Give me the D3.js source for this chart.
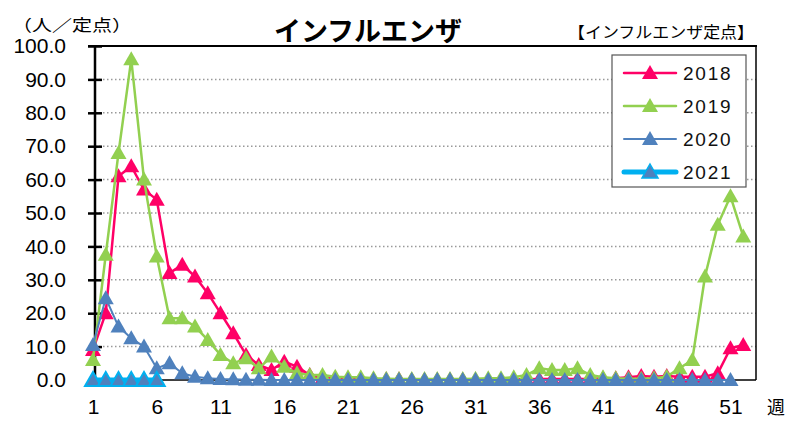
<!DOCTYPE html>
<html>
<head>
<meta charset="utf-8">
<script src="https://cdn.jsdelivr.net/npm/d3@7"></script>
<style>
body { margin: 0; background: #fff; }
svg { display: block; }
text { font-family: "Liberation Sans", Arial, sans-serif; }
.jp { font-family: "Noto Sans CJK JP", sans-serif; }
</style>
</head>
<body>
<svg id="chart" width="787" height="421"></svg>
<script>
// weeks 1..52
var weeks = d3.range(1, 53);
var yTicks = [0, 10, 20, 30, 40, 50, 60, 70, 80, 90, 100];
var xTicks = [1, 6, 11, 16, 21, 26, 31, 36, 41, 46, 51];

var v2018 = [9, 20, 61, 64, 57, 54, 32, 34.5, 31, 26, 20, 14, 7.5, 4.5, 3, 5.5, 4, 1.5, 0.5, 0.5,
  0.3, 0.3, 0.2, 0.2, 0.2, 0.1, 0.1, 0.1, 0.1, 0.1, 0.1, 0.1, 0.1, 0.2, 0.2, 0.3, 0.3, 0.3, 0.3, 0.3,
  0.5, 0.5, 0.8, 1.2, 1, 1.2, 1, 1, 1, 2, 9.5, 10.5];
var v2019 = [6, 37.5, 68, 96, 60, 37, 18.5, 18.5, 16, 12, 7.5, 5, 6.5, 3.5, 7, 4, 2, 1.5, 1.5, 1,
  0.8, 0.8, 0.5, 0.4, 0.3, 0.3, 0.3, 0.3, 0.3, 0.3, 0.4, 0.5, 0.5, 0.8, 1.5, 3.5, 3, 3, 3.5, 1.5,
  0.8, 0.5, 0.4, 0.4, 0.5, 1, 3.5, 6, 31, 46.5, 55, 43];
var v2020 = [10.5, 24.5, 16, 12.5, 10, 3.5, 5, 2, 1, 0.5, 0.3, 0.2, 0.1, 0.1, 0, 0, 0, 0, 0, 0,
  0, 0, 0, 0, 0, 0, 0, 0, 0, 0, 0, 0, 0, 0, 0, 0, 0, 0, 0, 0,
  0, 0, 0, 0, 0, 0, 0, 0, 0, 0, 0];
var v2021 = [0, 0, 0, 0, 0, 0];

var series = [
  { name: "2018", values: v2018, line: "#ff0066", fill: "#ff0066", stroke: null, w: 2.5 },
  { name: "2019", values: v2019, line: "#92d050", fill: "#92d050", stroke: null, w: 2.5 },
  { name: "2020", values: v2020, line: "#4f81bd", fill: "#4f81bd", stroke: null, w: 2 },
  { name: "2021", values: v2021, line: "#00b0f0", fill: "#4f81bd", stroke: "#00b0f0", w: 5 }
];

var svg = d3.select("#chart");
var x = d3.scaleLinear().domain([1, 53]).range([93, 756]);
var y = d3.scaleLinear().domain([0, 100]).range([380, 46]);

// grid
svg.append("g").selectAll("line")
  .data(yTicks.filter(function(d){ return d > 0 && d < 100; }))
  .enter().append("line")
  .attr("x1", 95).attr("x2", 756)
  .attr("y1", function(d){ return y(d); }).attr("y2", function(d){ return y(d); })
  .attr("stroke", "#999").attr("stroke-width", 1.5).attr("stroke-dasharray", "1.5,2.5");

// frame
svg.append("line").attr("x1", 88).attr("x2", 757).attr("y1", y(100)).attr("y2", y(100))
  .attr("stroke", "#000").attr("stroke-width", 2);
svg.append("line").attr("x1", 756).attr("x2", 756).attr("y1", y(100)).attr("y2", y(0))
  .attr("stroke", "#000").attr("stroke-width", 1.5);
svg.append("line").attr("x1", 94).attr("x2", 756).attr("y1", y(0)).attr("y2", y(0))
  .attr("stroke", "#000").attr("stroke-width", 1.5);

// y axis
var yAxis = svg.append("g").attr("transform", "translate(95,0)")
  .call(d3.axisLeft(y).tickValues(yTicks).tickFormat(d3.format(".1f")).tickSize(7).tickPadding(22));
yAxis.select(".domain").remove();
yAxis.selectAll(".tick line").attr("x2", 7).attr("x1", -7).attr("stroke", "#000").attr("stroke-width", 2.5);
yAxis.selectAll("text").attr("font-size", 21).attr("fill", "#000")
  .style("font-family", "'Liberation Sans', Arial, sans-serif");
svg.append("line").attr("x1", 95).attr("x2", 95).attr("y1", y(100)).attr("y2", y(0))
  .attr("stroke", "#000").attr("stroke-width", 2.5);

// x axis labels
var xAxis = svg.append("g").attr("transform", "translate(0,380)")
  .call(d3.axisBottom(x).tickValues(xTicks).tickFormat(d3.format("d")).tickSize(0).tickPadding(19));
xAxis.select(".domain").remove();
xAxis.selectAll("text").attr("font-size", 21).attr("fill", "#000")
  .style("font-family", "'Liberation Sans', Arial, sans-serif");

var tri = "M0,-8L8,6L-8,6Z";
var line = d3.line().x(function(d, i){ return x(i + 1); }).y(function(d){ return y(d); });

series.forEach(function(s) {
  var g = svg.append("g");
  g.append("path").attr("d", line(s.values)).attr("fill", "none")
    .attr("stroke", s.line).attr("stroke-width", s.w).attr("stroke-linejoin", "round");
  g.selectAll("path.m").data(s.values).enter().append("path").attr("class", "m")
    .attr("d", tri)
    .attr("transform", function(d, i){ return "translate(" + x(i + 1) + "," + y(d) + ")"; })
    .attr("fill", s.fill)
    .attr("stroke", s.stroke || "none").attr("stroke-width", 2);
});

// legend
var lg = svg.append("g");
lg.append("rect").attr("x", 612).attr("y", 55).attr("width", 134).attr("height", 132)
  .attr("fill", "#fff").attr("stroke", "#555").attr("stroke-width", 1.2);
series.forEach(function(s, i) {
  var ly = 73 + i * 33;
  lg.append("line").attr("x1", 624).attr("x2", 676).attr("y1", ly).attr("y2", ly)
    .attr("stroke", s.line).attr("stroke-width", s.w).attr("stroke-linecap", "round");
  lg.append("path").attr("d", tri).attr("transform", "translate(650," + ly + ")")
    .attr("fill", s.fill).attr("stroke", s.stroke || "none").attr("stroke-width", 1.5);
  lg.append("text").attr("x", 683).attr("y", ly + 7).attr("font-size", 19)
    .attr("letter-spacing", 1.8).attr("fill", "#111").text(s.name);
});

// titles
svg.append("text").attr("class", "jp").attr("x", 368).attr("y", 41).attr("text-anchor", "middle")
  .attr("font-size", 27).attr("font-weight", "bold").text("インフルエンザ");
svg.append("text").attr("class", "jp").attr("x", 568).attr("y", 38)
  .attr("font-size", 16).attr("textLength", 186).attr("lengthAdjust", "spacingAndGlyphs")
  .text("【インフルエンザ定点】");
svg.append("text").attr("class", "jp").attr("x", 12).attr("y", 31)
  .attr("font-size", 16).attr("textLength", 120).attr("lengthAdjust", "spacingAndGlyphs")
  .text("（人／定点）");
svg.append("text").attr("class", "jp").attr("x", 776).attr("y", 414).attr("text-anchor", "middle")
  .attr("font-size", 18).text("週");
</script>
</body>
</html>
